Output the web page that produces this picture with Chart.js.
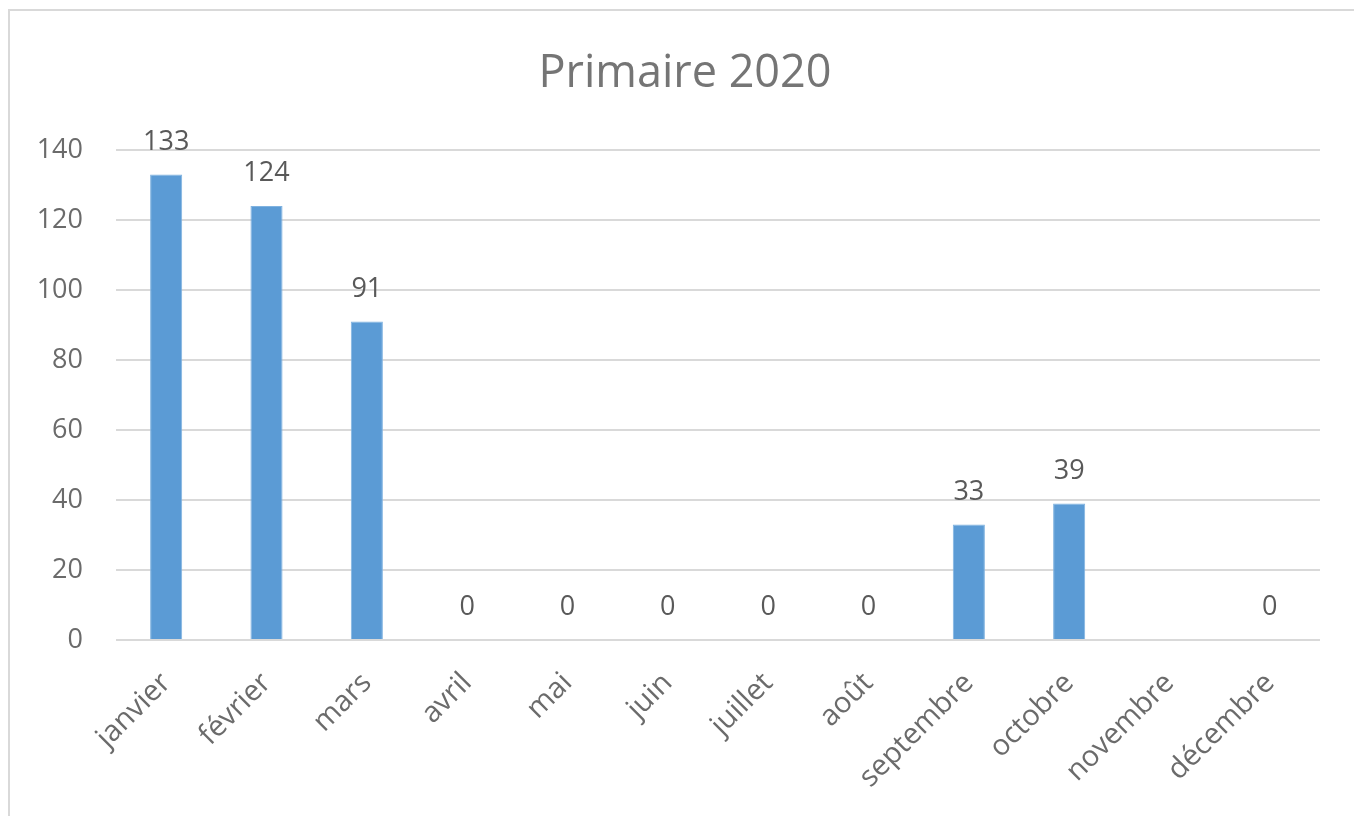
<!DOCTYPE html>
<html>
<head>
<meta charset="utf-8">
<script src="https://cdn.jsdelivr.net/npm/chart.js@4.4.1/dist/chart.umd.min.js"></script>
<style>
  html, body { margin: 0; padding: 0; background: #fff; overflow: hidden; }
  #frame { position: absolute; left: 8px; top: 9px; width: 1400px; height: 900px; border: 2px solid #d9d9d9; }
  #wrap { position: absolute; left: 0; top: 0; width: 1354px; height: 816px; }
</style>
</head>
<body>
<div id="frame"></div>
<div id="wrap"><canvas id="chart"></canvas></div>
<script>
const months = ['janvier', 'février', 'mars', 'avril', 'mai', 'juin', 'juillet', 'août', 'septembre', 'octobre', 'novembre', 'décembre'];
const counts = [133, 124, 91, 0, 0, 0, 0, 0, 33, 39, null, 0];
const yTicks = [0, 20, 40, 60, 80, 100, 120, 140];

Chart.defaults.font.family = "'Open Sans', sans-serif";

// draws the value above each bar
const valueLabels = {
    id: 'valueLabels',
    afterDatasetsDraw(chart) {
        const ctx = chart.ctx;
        const meta = chart.getDatasetMeta(0);
        ctx.save();
        ctx.font = "27px 'Open Sans', sans-serif";
        ctx.fillStyle = '#595959';
        ctx.textAlign = 'center';
        ctx.textBaseline = 'alphabetic';
        meta.data.forEach(function(bar, i) {
            const v = counts[i];
            if (v === null) return;
            ctx.fillText(String(v), bar.x, bar.y - 25);
        });
        ctx.restore();
    }
};

// the title sits a bit right of the canvas centre, like in Excel
const titleShift = {
    id: 'titleShift',
    afterLayout(chart) {
        if (chart.titleBlock) chart.titleBlock.left = 50;
    }
};

const ctx = document.getElementById('chart').getContext('2d');
new Chart(ctx, {
    type: 'bar',
    data: {
        labels: months,
        datasets: [{
            label: 'Primaire 2020',
            data: counts,
            backgroundColor: '#5b9bd5',
            borderColor: '#7fb2e0',
            borderWidth: 1,
            barPercentage: 0.32,
            categoryPercentage: 1
        }]
    },
    options: {
        responsive: true,
        maintainAspectRatio: false,
        animation: false,
        layout: { padding: { left: 0, right: 34, top: 0, bottom: 0 } },
        plugins: {
            legend: { display: false },
            tooltip: { enabled: false },
            title: {
                display: true,
                text: 'Primaire 2020',
                color: '#757575',
                font: { size: 45, weight: 'normal' },
                padding: { top: 47, bottom: 49 }
            }
        },
        scales: {
            x: {
                grid: { display: false },
                border: { display: false },
                ticks: {
                    color: '#6b6b6b',
                    font: { size: 29 },
                    maxRotation: 45,
                    minRotation: 45,
                    padding: 18
                },
                afterFit(scale) { scale.height = 176; }
            },
            y: {
                min: 0,
                max: 140,
                afterBuildTicks(scale) { scale.ticks = yTicks.map(v => ({ value: v })); },
                grid: { color: '#d9d9d9', lineWidth: 2, drawTicks: false },
                border: { display: false },
                ticks: {
                    color: '#6b6b6b',
                    font: { size: 27 },
                    padding: 33
                },
                afterFit(scale) { scale.width = 116; }
            }
        }
    },
    plugins: [valueLabels, titleShift]
});
</script>
</body>
</html>
